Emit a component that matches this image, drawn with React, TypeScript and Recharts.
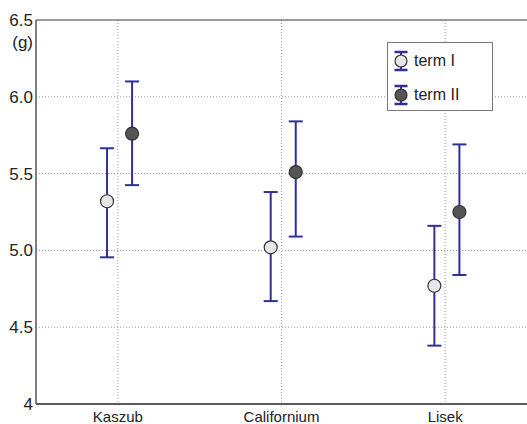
import React from "react";
import {
  CartesianGrid, ErrorBar, ReferenceLine,
  Scatter, ScatterChart, XAxis, YAxis,
} from "recharts";

const categories = ["Kaszub", "Californium", "Lisek"];
const termIMean = [5.32, 5.02, 4.77];
const termILow = [4.955, 4.67, 4.38];
const termIHigh = [5.665, 5.38, 5.16];
const termIIMean = [5.76, 5.51, 5.25];
const termIILow = [5.425, 5.09, 4.84];
const termIIHigh = [6.1, 5.84, 5.69];
const yTicks = [4, 4.5, 5, 5.5, 6, 6.5];
const seriesNames = ["term I", "term II"];

const FONT = "'Liberation Sans', Arial, Helvetica, sans-serif";
const BAR = "#2e3192";
const FILL_I = "#e6e6e6";
const FILL_II = "#555555";

// small horizontal shift so the two terms sit side by side around each category
const SHIFT_I = -0.066;
const SHIFT_II = 0.087;

const build = (mean: number[], lo: number[], hi: number[], shift: number) =>
  mean.map((m, i) => ({ x: i + shift, y: m, err: [m - lo[i], hi[i] - m] }));

const dataI = build(termIMean, termILow, termIHigh, SHIFT_I);
const dataII = build(termIIMean, termIILow, termIIHigh, SHIFT_II);

const dot = (fill: string) => (p: any) =>
  <circle cx={p.cx} cy={p.cy} r={6.5} fill={fill} stroke="#333" strokeWidth={1.2} />;

function LegendIcon({ fill }: { fill: string }) {
  return (
    <svg width={20} height={24} style={{ display: "block" }}>
      <line x1={10} y1={3} x2={10} y2={21} stroke={BAR} strokeWidth={2} />
      <line x1={3.5} y1={3} x2={16.5} y2={3} stroke={BAR} strokeWidth={2.5} />
      <line x1={3.5} y1={21} x2={16.5} y2={21} stroke={BAR} strokeWidth={2.5} />
      <circle cx={10} cy={12} r={6} fill={fill} stroke="#333" strokeWidth={1.2} />
    </svg>
  );
}

function LegendBox() {
  const fills = [FILL_I, FILL_II];
  return (
    <div style={{
      position: "absolute", left: 387, top: 42,
      border: "1px solid #777", background: "#fff", width: 106, height: 69,
      boxSizing: "border-box", padding: "5.5px 0 0 3px", fontFamily: FONT,
    }}>
      {seriesNames.map((n, i) => (
        <div key={n} style={{ display: "flex", alignItems: "center", height: 24, marginBottom: i === 0 ? 10.5 : 0 }}>
          <LegendIcon fill={fills[i]} />
          <span style={{ fontSize: 16, color: "#222", marginLeft: 3 }}>{n}</span>
        </div>
      ))}
    </div>
  );
}

export default function App() {
  const tickStyle = { fontSize: 15, fill: "#222", fontFamily: FONT };
  return (
    <div style={{ position: "absolute", left: 0, top: 0, width: 527, height: 424, background: "#fff", overflow: "hidden" }}>
      <ScatterChart width={527} height={424} margin={{ top: 20, right: 0, left: 0, bottom: 0 }}
        style={{ fontFamily: FONT }}>
        <CartesianGrid stroke="#999" strokeDasharray="1 2"
          horizontalValues={[4.5, 5, 5.5, 6]} verticalValues={[0, 1, 2]} />
        <XAxis type="number" dataKey="x" domain={[-0.5, 2.5]} ticks={[0, 1, 2]} interval={0}
          tickFormatter={(v) => categories[v] ?? ""} tickLine={false} tickSize={5} tickMargin={2}
          axisLine={{ stroke: "#222", strokeWidth: 1.5 }} tick={tickStyle} height={20} />
        <YAxis type="number" dataKey="y" domain={[4, 6.5]} ticks={yTicks} interval={0}
          tickFormatter={(v) => (v === 4 ? "4" : v.toFixed(1))} tickLine={false} tickSize={0} tickMargin={3}
          axisLine={{ stroke: "#555", strokeWidth: 1.5 }} width={36}
          tick={{ ...tickStyle, fontSize: 17 }}
          label={{
            content: () => (
              <text x={33} y={48} textAnchor="end" fontSize={17} fill="#222" fontFamily={FONT}>(g)</text>
            ),
          }} />
        <ReferenceLine y={6.5} stroke="#777" strokeWidth={1.5} ifOverflow="visible" />
        <Scatter name={seriesNames[0]} data={dataI} shape={dot(FILL_I)} isAnimationActive={false}>
          <ErrorBar dataKey="err" direction="y" width={7} stroke={BAR} strokeWidth={2} isAnimationActive={false} />
        </Scatter>
        <Scatter name={seriesNames[1]} data={dataII} shape={dot(FILL_II)} isAnimationActive={false}>
          <ErrorBar dataKey="err" direction="y" width={7} stroke={BAR} strokeWidth={2} isAnimationActive={false} />
        </Scatter>
      </ScatterChart>
      <LegendBox />
    </div>
  );
}
